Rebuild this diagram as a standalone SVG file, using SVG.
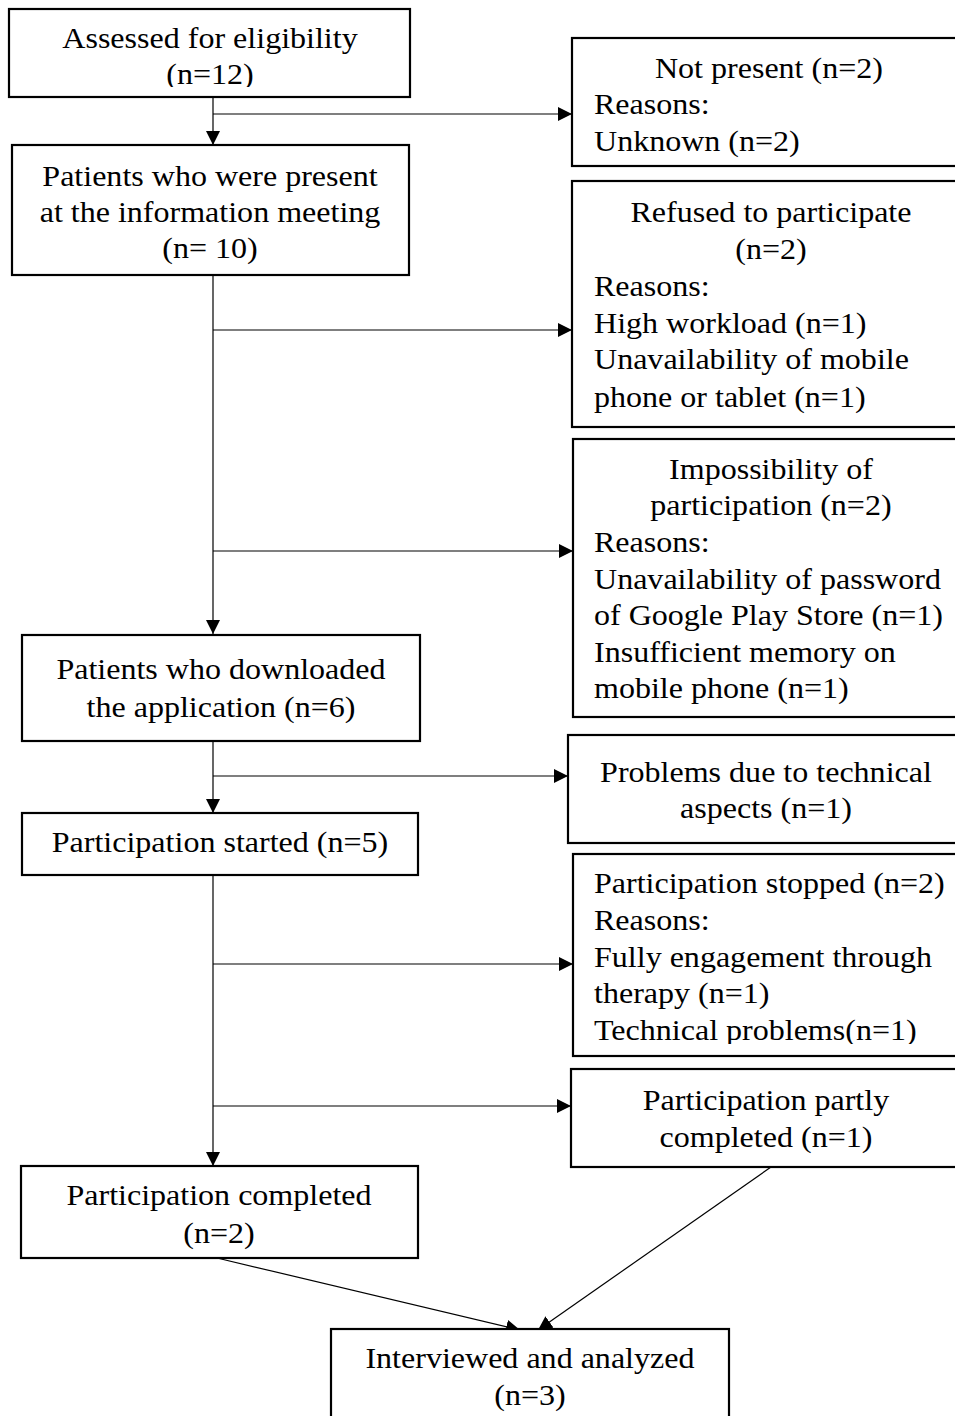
<svg xmlns="http://www.w3.org/2000/svg" width="955" height="1416" viewBox="0 0 955 1416">
<style>
.box{fill:#fff;stroke:#000;stroke-width:2.2}
.t{font-family:"Liberation Serif","Times New Roman",serif;font-size:29px;fill:#000}
.c{text-anchor:middle}
.ln{stroke:#000;stroke-width:1.2;fill:none}
</style>
<defs>
<marker id="ah" viewBox="0 0 14 14" refX="14" refY="7" markerWidth="14" markerHeight="14" markerUnits="userSpaceOnUse" orient="auto">
<path d="M0,0 L14,7 L0,14 Z" fill="#000"/>
</marker>
<clipPath id="clip1"><rect x="0" y="0" width="955" height="87"/></clipPath>
<clipPath id="clip2"><rect x="0" y="850" width="955" height="194"/></clipPath>
</defs>
<g id="connectors">
<line class="ln" x1="213" y1="97" x2="213" y2="145" marker-end="url(#ah)"/>
<line class="ln" x1="213" y1="114" x2="572" y2="114" marker-end="url(#ah)"/>
<line class="ln" x1="213" y1="275" x2="213" y2="634" marker-end="url(#ah)"/>
<line class="ln" x1="213" y1="330" x2="572" y2="330" marker-end="url(#ah)"/>
<line class="ln" x1="213" y1="551" x2="573" y2="551" marker-end="url(#ah)"/>
<line class="ln" x1="213" y1="741" x2="213" y2="813" marker-end="url(#ah)"/>
<line class="ln" x1="213" y1="776" x2="568" y2="776" marker-end="url(#ah)"/>
<line class="ln" x1="213" y1="875" x2="213" y2="1166" marker-end="url(#ah)"/>
<line class="ln" x1="213" y1="964" x2="573" y2="964" marker-end="url(#ah)"/>
<line class="ln" x1="213" y1="1106" x2="571" y2="1106" marker-end="url(#ah)"/>
<line class="ln" x1="217" y1="1258" x2="520" y2="1330" marker-end="url(#ah)"/>
<line class="ln" x1="771" y1="1167" x2="538" y2="1330" marker-end="url(#ah)"/>
</g>
<g id="assessed">
<rect class="box" x="9" y="9" width="401" height="88"/>
<g transform="scale(1.105,1)">
<text class="t c" x="190.05" y="48">Assessed for eligibility</text>
<text class="t c" x="190.05" y="84" clip-path="url(#clip1)">(n=12)</text>
</g>
</g>
<g id="not-present">
<rect class="box" x="572" y="38" width="400" height="128"/>
<g transform="scale(1.105,1)">
<text class="t c" x="695.9" y="78">Not present (n=2)</text>
<text class="t" x="537.56" y="114">Reasons:</text>
<text class="t" x="537.56" y="151">Unknown (n=2)</text>
</g>
</g>
<g id="present">
<rect class="box" x="12" y="145" width="397" height="130"/>
<g transform="scale(1.105,1)">
<text class="t c" x="190.05" y="186">Patients who were present</text>
<text class="t c" x="190.05" y="222">at the information meeting</text>
<text class="t c" x="190.05" y="258">(n= 10)</text>
</g>
</g>
<g id="refused">
<rect class="box" x="572" y="181" width="400" height="246"/>
<g transform="scale(1.105,1)">
<text class="t c" x="697.7" y="222">Refused to participate</text>
<text class="t c" x="697.7" y="259">(n=2)</text>
<text class="t" x="537.56" y="296">Reasons:</text>
<text class="t" x="537.56" y="333">High workload (n=1)</text>
<text class="t" x="537.56" y="369">Unavailability of mobile</text>
<text class="t" x="537.56" y="407">phone or tablet (n=1)</text>
</g>
</g>
<g id="impossibility">
<rect class="box" x="573" y="439" width="400" height="278"/>
<g transform="scale(1.105,1)">
<text class="t c" x="697.7" y="479">Impossibility of</text>
<text class="t c" x="697.7" y="515">participation (n=2)</text>
<text class="t" x="537.56" y="552">Reasons:</text>
<text class="t" x="537.56" y="589">Unavailability of password</text>
<text class="t" x="537.56" y="625">of Google Play Store (n=1)</text>
<text class="t" x="537.56" y="662">Insufficient memory on</text>
<text class="t" x="537.56" y="698">mobile phone (n=1)</text>
</g>
</g>
<g id="downloaded">
<rect class="box" x="22" y="635" width="398" height="106"/>
<g transform="scale(1.105,1)">
<text class="t c" x="200" y="679">Patients who downloaded</text>
<text class="t c" x="200" y="717">the application (n=6)</text>
</g>
</g>
<g id="technical">
<rect class="box" x="568" y="735" width="400" height="108"/>
<g transform="scale(1.105,1)">
<text class="t c" x="693.2" y="782">Problems due to technical</text>
<text class="t c" x="693.2" y="818">aspects (n=1)</text>
</g>
</g>
<g id="started">
<rect class="box" x="22" y="813" width="396" height="62"/>
<g transform="scale(1.105,1)">
<text class="t c" x="199.1" y="852">Participation started (n=5)</text>
</g>
</g>
<g id="stopped">
<rect class="box" x="573" y="854" width="400" height="202"/>
<g transform="scale(1.105,1)">
<text class="t" x="537.56" y="893">Participation stopped (n=2)</text>
<text class="t" x="537.56" y="930">Reasons:</text>
<text class="t" x="537.56" y="967">Fully engagement through</text>
<text class="t" x="537.56" y="1003">therapy (n=1)</text>
<text class="t" x="537.56" y="1040" clip-path="url(#clip2)">Technical problems(n=1)</text>
</g>
</g>
<g id="partly">
<rect class="box" x="571" y="1069" width="400" height="98"/>
<g transform="scale(1.105,1)">
<text class="t c" x="693.2" y="1110">Participation partly</text>
<text class="t c" x="693.2" y="1147">completed (n=1)</text>
</g>
</g>
<g id="completed">
<rect class="box" x="21" y="1166" width="397" height="92"/>
<g transform="scale(1.105,1)">
<text class="t c" x="198.2" y="1205">Participation completed</text>
<text class="t c" x="198.2" y="1243">(n=2)</text>
</g>
</g>
<g id="interviewed">
<rect class="box" x="331" y="1329" width="398" height="100"/>
<g transform="scale(1.105,1)">
<text class="t c" x="479.6" y="1368">Interviewed and analyzed</text>
<text class="t c" x="479.6" y="1405">(n=3)</text>
</g>
</g>
</svg>
